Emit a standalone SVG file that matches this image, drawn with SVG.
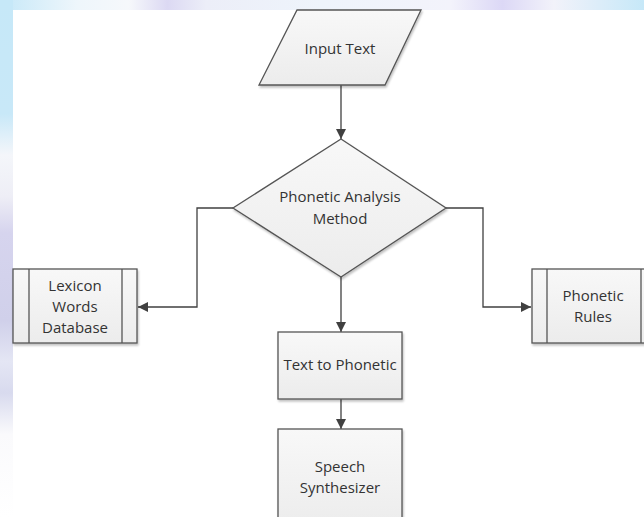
<svg xmlns="http://www.w3.org/2000/svg" width="644" height="517" viewBox="0 0 644 517">
<defs>
  <linearGradient id="topbg" x1="0" y1="0" x2="1" y2="0">
    <stop offset="0" stop-color="#c6e8f8"/>
    <stop offset="0.12" stop-color="#eef6fb"/>
    <stop offset="0.2" stop-color="#f6f8fb"/>
    <stop offset="0.26" stop-color="#dcd9f3"/>
    <stop offset="0.32" stop-color="#eceef8"/>
    <stop offset="0.5" stop-color="#eef4fb"/>
    <stop offset="0.7" stop-color="#f3f3fb"/>
    <stop offset="0.78" stop-color="#dcd8f6"/>
    <stop offset="0.86" stop-color="#f2f2fa"/>
    <stop offset="1" stop-color="#c6e8f8"/>
  </linearGradient>
  <linearGradient id="leftbg" x1="0" y1="0" x2="0" y2="1">
    <stop offset="0" stop-color="#c6e8f8"/>
    <stop offset="0.22" stop-color="#c8e8f8"/>
    <stop offset="0.3" stop-color="#f4f6fa"/>
    <stop offset="0.38" stop-color="#eeeef6"/>
    <stop offset="0.45" stop-color="#d6d4ee"/>
    <stop offset="0.62" stop-color="#d0d0ea"/>
    <stop offset="0.7" stop-color="#e4e6f4"/>
    <stop offset="0.76" stop-color="#d8daee"/>
    <stop offset="0.84" stop-color="#fafafc"/>
    <stop offset="1" stop-color="#ffffff"/>
  </linearGradient>
  <linearGradient id="fillg" x1="0" y1="0" x2="0" y2="1">
    <stop offset="0" stop-color="#f8f8f8"/>
    <stop offset="1" stop-color="#ececec"/>
  </linearGradient>
  <marker id="arr" viewBox="0 0 10 10" refX="10" refY="5" markerWidth="10" markerHeight="10" markerUnits="userSpaceOnUse" orient="auto">
    <path d="M0,0 L10,5 L0,10 z" fill="#404040"/>
  </marker>
  <filter id="sh" x="-10%" y="-10%" width="130%" height="130%">
    <feGaussianBlur in="SourceAlpha" stdDeviation="1"/>
    <feOffset dx="1" dy="2"/>
    <feComponentTransfer><feFuncA type="linear" slope="0.25"/></feComponentTransfer>
    <feMerge><feMergeNode/><feMergeNode in="SourceGraphic"/></feMerge>
  </filter>
</defs>
<style>
  .shape { fill: url(#fillg); stroke: #555555; stroke-width: 1.3; filter: url(#sh); }
  .inner { stroke: #555555; stroke-width: 1.3; fill: none; }
  .lbl { font-family: "Open Sans", "Noto Sans", "Liberation Sans", sans-serif; font-size: 15px; fill: #333333; text-anchor: middle; }
  .conn { fill: none; stroke: #404040; stroke-width: 1.3; marker-end: url(#arr); }
</style>
<rect x="0" y="0" width="644" height="517" fill="#ffffff"/>
<rect x="0" y="0" width="644" height="10" fill="url(#topbg)"/>
<rect x="0" y="0" width="13" height="517" fill="url(#leftbg)"/>

<g id="connectors">
  <path class="conn" d="M341,85 L341,139"/>
  <path class="conn" d="M233,208 L197,208 L197,307 L138,307"/>
  <path class="conn" d="M446,208 L483,208 L483,307 L531,307"/>
  <path class="conn" d="M341,277 L341,332"/>
  <path class="conn" d="M341,399 L341,429"/>
</g>

<g id="input-text">
  <polygon class="shape" points="297,10 421,10 385,85 259,85"/>
  <text class="lbl" x="340" y="54">Input Text</text>
</g>

<g id="phonetic-analysis-method">
  <polygon class="shape" points="341,139 446,208 341,277 233,208"/>
  <text class="lbl" x="340" y="202">Phonetic Analysis</text>
  <text class="lbl" x="340" y="224">Method</text>
</g>

<g id="lexicon-words-database">
  <rect class="shape" x="13" y="269" width="124" height="74"/>
  <line class="inner" x1="29" y1="269" x2="29" y2="343"/>
  <line class="inner" x1="122" y1="269" x2="122" y2="343"/>
  <text class="lbl" x="75" y="291">Lexicon</text>
  <text class="lbl" x="75" y="312">Words</text>
  <text class="lbl" x="75" y="333">Database</text>
</g>

<g id="phonetic-rules">
  <rect class="shape" x="532" y="269" width="124" height="74"/>
  <line class="inner" x1="547" y1="269" x2="547" y2="343"/>
  <line class="inner" x1="641" y1="269" x2="641" y2="343"/>
  <text class="lbl" x="593" y="301">Phonetic</text>
  <text class="lbl" x="593" y="322">Rules</text>
</g>

<g id="text-to-phonetic">
  <rect class="shape" x="278" y="332" width="124" height="67"/>
  <text class="lbl" x="340" y="370">Text to Phonetic</text>
</g>

<g id="speech-synthesizer">
  <rect class="shape" x="278" y="429" width="124" height="100"/>
  <text class="lbl" x="340" y="472">Speech</text>
  <text class="lbl" x="340" y="493">Synthesizer</text>
</g>
</svg>
